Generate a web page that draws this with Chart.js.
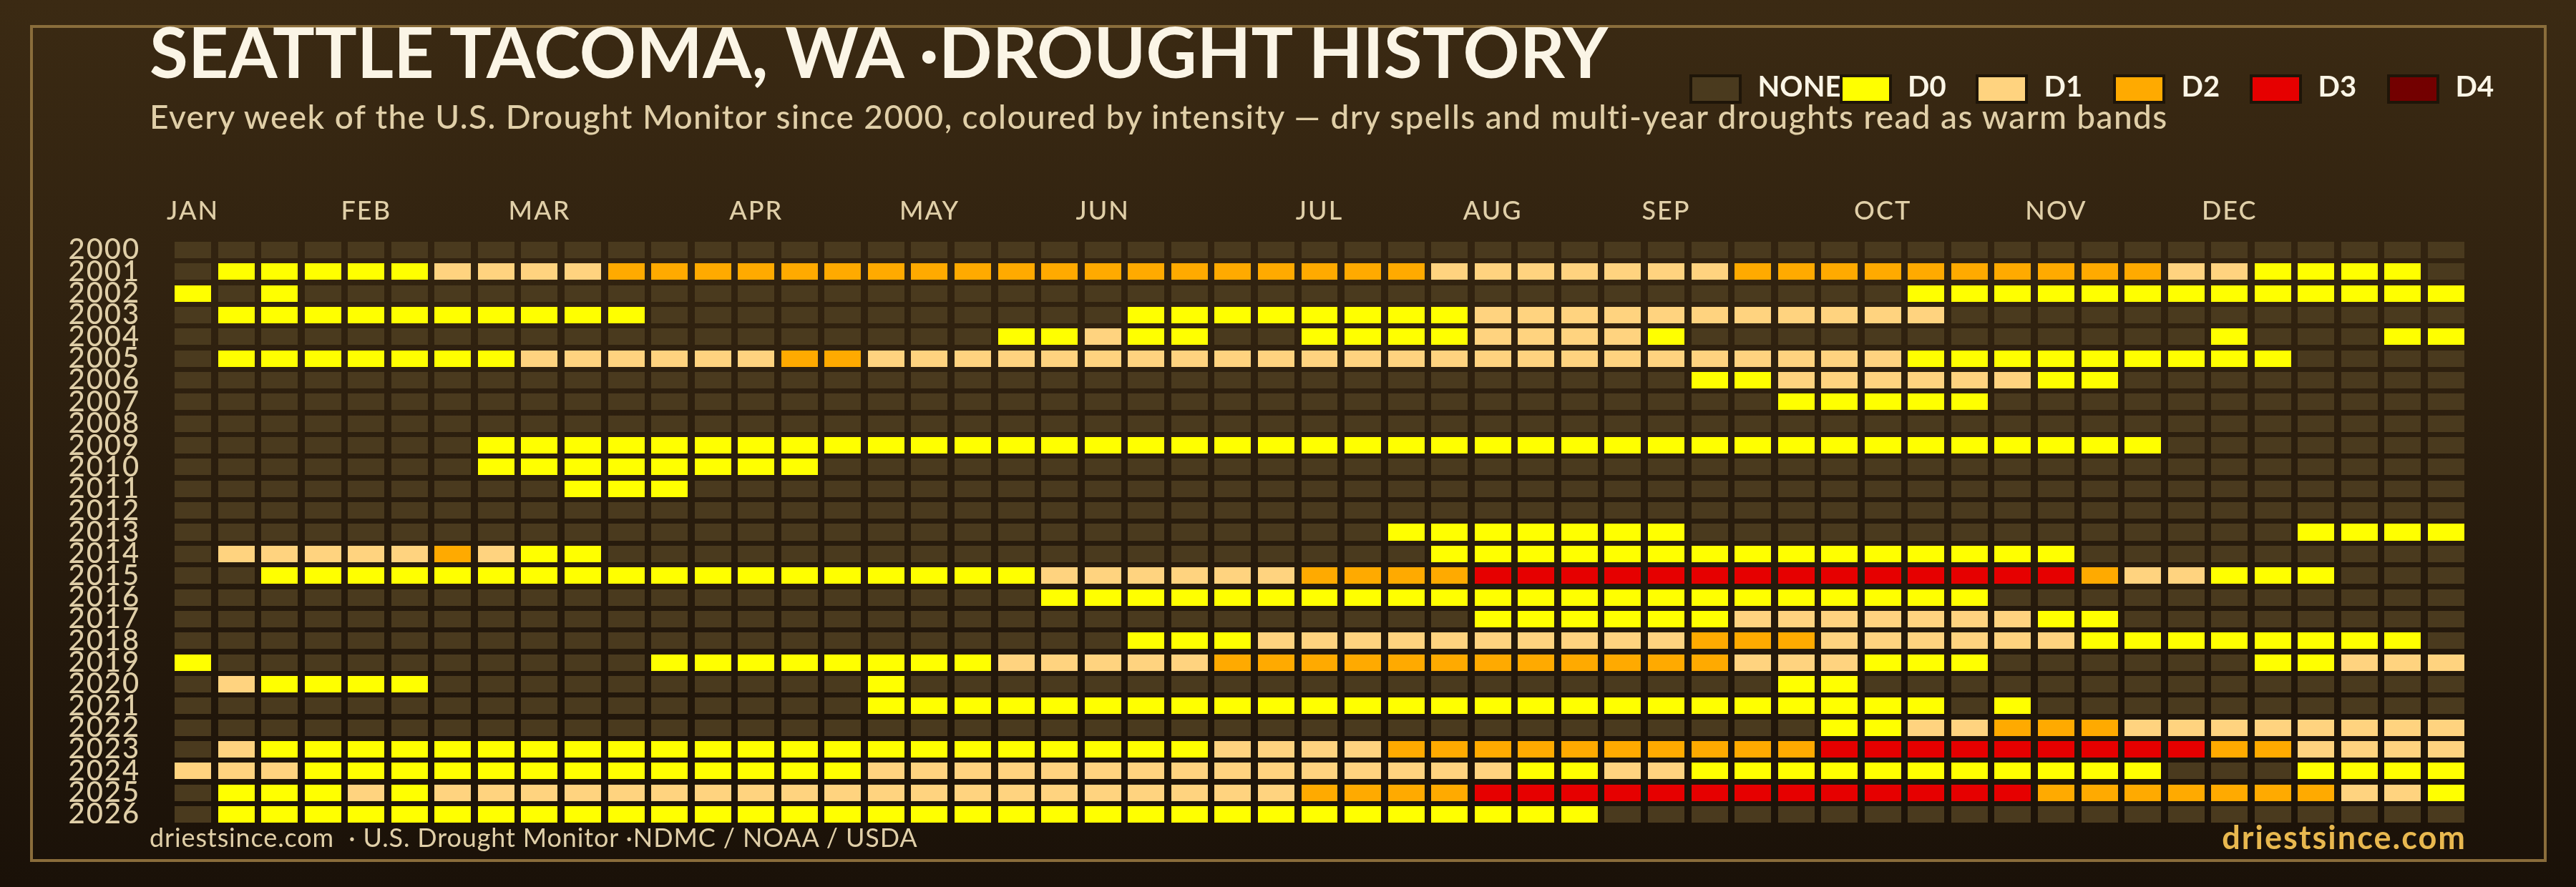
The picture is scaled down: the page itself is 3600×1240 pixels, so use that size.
<!DOCTYPE html>
<html><head><meta charset="utf-8">
<script src="https://cdn.jsdelivr.net/npm/chart.js@4"></script>
<style>
html,body{margin:0;padding:0;width:3600px;height:1240px;overflow:hidden;background:linear-gradient(180deg,#3b2a13 0%,#2b1e0e 50%,#1a1108 100%);font-family:Lato,sans-serif}
#frame{position:absolute;left:42px;top:35px;width:3509px;height:1162px;border:4px solid #8a6d3b}
canvas{position:absolute;left:0;top:0}
.t{position:absolute;white-space:pre;line-height:1.2}
.sw{position:absolute;width:65px;height:33px;border:4px solid #1e1508;top:104px}
</style></head><body>
<div id="frame"></div>
<canvas id="c" width="3600" height="1240"></canvas>
<script>
const years=["2000","2001","2002","2003","2004","2005","2006","2007","2008","2009","2010","2011","2012","2013","2014","2015","2016","2017","2018","2019","2020","2021","2022","2023","2024","2025","2026"];
const monthNames=["JAN","FEB","MAR","APR","MAY","JUN","JUL","AUG","SEP","OCT","NOV","DEC"];
const monthWeeks=[0,4,8,13,17,21,26,30,34,39,43,47];
const levelNames=["NONE","D0","D1","D2","D3","D4"];
const levelColors=["#4a3a1e","#ffff00","#ffd37f","#ffaa00","#e60000","#730000"];
const w2000=[0,0,0,0,0,0,0,0,0,0, 0,0,0,0,0,0,0,0,0,0, 0,0,0,0,0,0,0,0,0,0, 0,0,0,0,0,0,0,0,0,0, 0,0,0,0,0,0,0,0,0,0, 0,0,0];
const w2001=[0,1,1,1,1,1,2,2,2,2, 3,3,3,3,3,3,3,3,3,3, 3,3,3,3,3,3,3,3,3,2, 2,2,2,2,2,2,3,3,3,3, 3,3,3,3,3,3,2,2,1,1, 1,1,0];
const w2002=[1,0,1,0,0,0,0,0,0,0, 0,0,0,0,0,0,0,0,0,0, 0,0,0,0,0,0,0,0,0,0, 0,0,0,0,0,0,0,0,0,0, 1,1,1,1,1,1,1,1,1,1, 1,1,1];
const w2003=[0,1,1,1,1,1,1,1,1,1, 1,0,0,0,0,0,0,0,0,0, 0,0,1,1,1,1,1,1,1,1, 2,2,2,2,2,2,2,2,2,2, 2,0,0,0,0,0,0,0,0,0, 0,0,0];
const w2004=[0,0,0,0,0,0,0,0,0,0, 0,0,0,0,0,0,0,0,0,1, 1,2,1,1,0,0,1,1,1,1, 2,2,2,2,1,0,0,0,0,0, 0,0,0,0,0,0,0,1,0,0, 0,1,1];
const w2005=[0,1,1,1,1,1,1,1,2,2, 2,2,2,2,3,3,2,2,2,2, 2,2,2,2,2,2,2,2,2,2, 2,2,2,2,2,2,2,2,2,2, 1,1,1,1,1,1,1,1,1,0, 0,0,0];
const w2006=[0,0,0,0,0,0,0,0,0,0, 0,0,0,0,0,0,0,0,0,0, 0,0,0,0,0,0,0,0,0,0, 0,0,0,0,0,1,1,2,2,2, 2,2,2,1,1,0,0,0,0,0, 0,0,0];
const w2007=[0,0,0,0,0,0,0,0,0,0, 0,0,0,0,0,0,0,0,0,0, 0,0,0,0,0,0,0,0,0,0, 0,0,0,0,0,0,0,1,1,1, 1,1,0,0,0,0,0,0,0,0, 0,0,0];
const w2008=[0,0,0,0,0,0,0,0,0,0, 0,0,0,0,0,0,0,0,0,0, 0,0,0,0,0,0,0,0,0,0, 0,0,0,0,0,0,0,0,0,0, 0,0,0,0,0,0,0,0,0,0, 0,0,0];
const w2009=[0,0,0,0,0,0,0,1,1,1, 1,1,1,1,1,1,1,1,1,1, 1,1,1,1,1,1,1,1,1,1, 1,1,1,1,1,1,1,1,1,1, 1,1,1,1,1,1,0,0,0,0, 0,0,0];
const w2010=[0,0,0,0,0,0,0,1,1,1, 1,1,1,1,1,0,0,0,0,0, 0,0,0,0,0,0,0,0,0,0, 0,0,0,0,0,0,0,0,0,0, 0,0,0,0,0,0,0,0,0,0, 0,0,0];
const w2011=[0,0,0,0,0,0,0,0,0,1, 1,1,0,0,0,0,0,0,0,0, 0,0,0,0,0,0,0,0,0,0, 0,0,0,0,0,0,0,0,0,0, 0,0,0,0,0,0,0,0,0,0, 0,0,0];
const w2012=[0,0,0,0,0,0,0,0,0,0, 0,0,0,0,0,0,0,0,0,0, 0,0,0,0,0,0,0,0,0,0, 0,0,0,0,0,0,0,0,0,0, 0,0,0,0,0,0,0,0,0,0, 0,0,0];
const w2013=[0,0,0,0,0,0,0,0,0,0, 0,0,0,0,0,0,0,0,0,0, 0,0,0,0,0,0,0,0,1,1, 1,1,1,1,1,0,0,0,0,0, 0,0,0,0,0,0,0,0,0,1, 1,1,1];
const w2014=[0,2,2,2,2,2,3,2,1,1, 0,0,0,0,0,0,0,0,0,0, 0,0,0,0,0,0,0,0,0,1, 1,1,1,1,1,1,1,1,1,1, 1,1,1,1,0,0,0,0,0,0, 0,0,0];
const w2015=[0,0,1,1,1,1,1,1,1,1, 1,1,1,1,1,1,1,1,1,1, 2,2,2,2,2,2,3,3,3,3, 4,4,4,4,4,4,4,4,4,4, 4,4,4,4,3,2,2,1,1,1, 0,0,0];
const w2016=[0,0,0,0,0,0,0,0,0,0, 0,0,0,0,0,0,0,0,0,0, 1,1,1,1,1,1,1,1,1,1, 1,1,1,1,1,1,1,1,1,1, 1,1,0,0,0,0,0,0,0,0, 0,0,0];
const w2017=[0,0,0,0,0,0,0,0,0,0, 0,0,0,0,0,0,0,0,0,0, 0,0,0,0,0,0,0,0,0,0, 1,1,1,1,1,1,2,2,2,2, 2,2,2,1,1,0,0,0,0,0, 0,0,0];
const w2018=[0,0,0,0,0,0,0,0,0,0, 0,0,0,0,0,0,0,0,0,0, 0,0,1,1,1,2,2,2,2,2, 2,2,2,2,2,3,3,3,2,2, 2,2,2,2,1,1,1,1,1,1, 1,1,0];
const w2019=[1,0,0,0,0,0,0,0,0,0, 0,1,1,1,1,1,1,1,1,2, 2,2,2,2,3,3,3,3,3,3, 3,3,3,3,3,3,2,2,2,1, 1,1,0,0,0,0,0,0,1,1, 2,2,2];
const w2020=[0,2,1,1,1,1,0,0,0,0, 0,0,0,0,0,0,1,0,0,0, 0,0,0,0,0,0,0,0,0,0, 0,0,0,0,0,0,0,1,1,0, 0,0,0,0,0,0,0,0,0,0, 0,0,0];
const w2021=[0,0,0,0,0,0,0,0,0,0, 0,0,0,0,0,0,1,1,1,1, 1,1,1,1,1,1,1,1,1,1, 1,1,1,1,1,1,1,1,1,1, 1,0,1,0,0,0,0,0,0,0, 0,0,0];
const w2022=[0,0,0,0,0,0,0,0,0,0, 0,0,0,0,0,0,0,0,0,0, 0,0,0,0,0,0,0,0,0,0, 0,0,0,0,0,0,0,0,1,1, 2,2,3,3,3,2,2,2,2,2, 2,2,2];
const w2023=[0,2,1,1,1,1,1,1,1,1, 1,1,1,1,1,1,1,1,1,1, 1,1,1,1,2,2,2,2,3,3, 3,3,3,3,3,3,3,3,4,4, 4,4,4,4,4,4,4,3,3,2, 2,2,2];
const w2024=[2,2,2,1,1,1,1,1,1,1, 1,1,1,1,1,1,2,2,2,2, 2,2,2,2,2,2,2,2,2,2, 2,1,1,2,2,1,1,1,1,1, 1,1,1,1,1,1,0,0,0,1, 1,1,1];
const w2025=[0,1,1,1,2,1,2,2,2,2, 2,2,2,2,2,2,2,2,2,2, 2,2,2,2,2,2,3,3,3,3, 4,4,4,4,4,4,4,4,4,4, 4,4,4,3,3,3,3,3,3,3, 2,2,1];
const w2026=[0,1,1,1,1,1,1,1,1,1, 1,1,1,1,1,1,1,1,1,1, 1,1,1,1,1,1,1,1,1,1, 1,1,1,0,0,0,0,0,0,0, 0,0,0,0,0,0,0,0,0,0, 0,0,0];
const rows=[w2000,w2001,w2002,w2003,w2004,w2005,w2006,w2007,w2008,w2009,w2010,w2011,w2012,w2013,w2014,w2015,w2016,w2017,w2018,w2019,w2020,w2021,w2022,w2023,w2024,w2025,w2026];

const gapX=0.079;
const datasets=levelNames.map((name,lv)=>{
  const data=[];
  rows.forEach((row,r)=>row.forEach((v,w)=>{ if(v===lv) data.push({y:years[r],x:[w+gapX,w+1-gapX]}); }));
  return {label:name,data,backgroundColor:levelColors[lv],borderWidth:0,barPercentage:0.758,categoryPercentage:1,grouped:false};
});
const snap={id:'snap',
  beforeDraw(ch){ch.ctx.letterSpacing='2px';},
  afterDatasetsUpdate(ch){
  ch.data.datasets.forEach((d,i)=>ch.getDatasetMeta(i).data.forEach(el=>{
    const top=Math.round(el.y-el.height/2),bot=Math.round(el.y+el.height/2);
    el.x=Math.round(el.x);el.base=Math.round(el.base);el.y=(top+bot)/2;el.height=bot-top;
  }));
}};
new Chart(document.getElementById('c'),{
  type:'bar',
  data:{labels:years,datasets},
  plugins:[snap],
  options:{
    indexAxis:'y',responsive:false,animation:false,devicePixelRatio:1,
    layout:{padding:{left:0,top:0,right:151.25,bottom:86.3}},
    plugins:{legend:{display:false},title:{display:false},tooltip:{enabled:false}},
    scales:{
      x:{type:'linear',position:'top',min:0,max:53,
        grid:{display:false,drawTicks:false},border:{display:false},
        afterBuildTicks:s=>{s.ticks=monthWeeks.map(w=>({value:w+0.5}));},
        afterFit:s=>{s.height=334.3;},
        ticks:{autoSkip:false,maxRotation:0,padding:17,color:'#e0cfa8',font:{family:'Lato',size:36,weight:'500'},
          callback:v=>monthNames[monthWeeks.indexOf(v-0.5)]}},
      y:{type:'category',offset:true,
        grid:{display:false,drawTicks:false},border:{display:false},
        afterFit:s=>{s.width=239.25;},
        ticks:{autoSkip:false,padding:43,color:'#e0cfa8',font:{family:'Lato',size:40,weight:'500'}}}
    }
  }
});
function text(s,x,base,size,weight,color,opts){
  opts=opts||{};
  const d=document.createElement('div');d.className='t';d.textContent=s;
  d.style.cssText=`top:${base-0.987*size}px;font-size:${size}px;font-weight:${weight};color:${color};`+
    (opts.right!==undefined?`right:${opts.right}px;`:`left:${x}px;`)+(opts.ls!==undefined?`letter-spacing:${opts.ls}px;`:'');
  document.body.appendChild(d);
}
text("SEATTLE TACOMA, WA ·DROUGHT HISTORY",209,109.5,98,700,"#fbf5e6",{ls:0.25});
text("Every week of the U.S. Drought Monitor since 2000, coloured by intensity — dry spells and multi-year droughts read as warm bands",209,180,46,500,"#e0cfa8",{ls:1.39});
text("driestsince.com  · U.S. Drought Monitor ·NDMC / NOAA / USDA",209,1185,36,400,"#e0cfa8",{ls:0.87});
text("driestsince.com",0,1187,45,700,"#e8b84f",{right:153,ls:2});
const swatchX=[2361,2570.5,2761,2953,3144,3336];
levelNames.forEach((n,i)=>{
  const s=document.createElement('div');s.className='sw';s.style.left=swatchX[i]+'px';s.style.background=levelColors[i];document.body.appendChild(s);
  text(n,swatchX[i]+95.5,135,40,700,"#fbf5e6",{});
});
</script>
</body></html>
